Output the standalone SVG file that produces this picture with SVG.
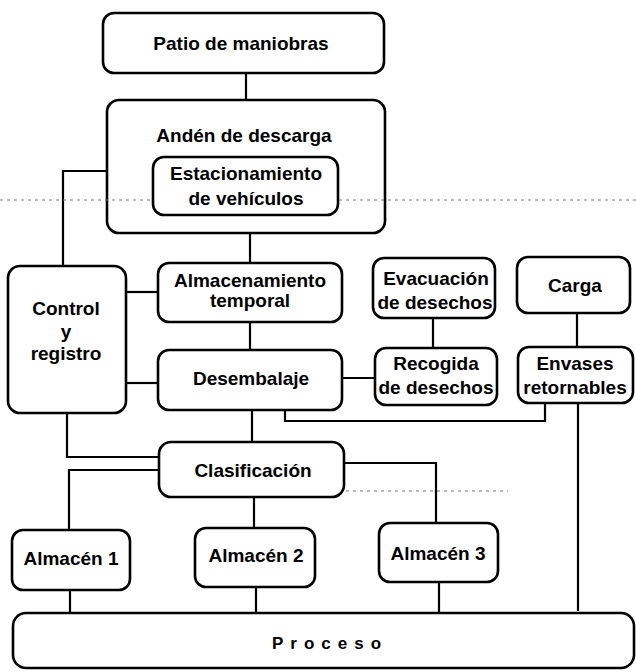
<svg xmlns="http://www.w3.org/2000/svg" width="636" height="672" viewBox="0 0 636 672">
<style>
.box{fill:#fff;stroke:#000;stroke-width:2.6}
.ln{fill:none;stroke:#000;stroke-width:2.2}
.art{fill:none;stroke:#777;stroke-width:1;stroke-dasharray:3 4}
text{font-family:"Liberation Sans",Arial,sans-serif;font-weight:bold;font-size:19px;fill:#000;text-anchor:middle;dominant-baseline:central}
</style>
<rect width="636" height="672" fill="#fff"/>
<g id="connectors">
<path class="ln" d="M246 73V100"/>
<path class="ln" d="M107 171H63V266"/>
<path class="ln" d="M250 233V263"/>
<path class="ln" d="M126 292H158"/>
<path class="ln" d="M250 322V350"/>
<path class="ln" d="M126 383H158"/>
<path class="ln" d="M342 378H375"/>
<path class="ln" d="M433 318V348"/>
<path class="ln" d="M577 313V347"/>
<path class="ln" d="M285 410V421H545V403"/>
<path class="ln" d="M578 403V611"/>
<path class="ln" d="M252 410V442"/>
<path class="ln" d="M67 413V457H159"/>
<path class="ln" d="M159 470H69V530"/>
<path class="ln" d="M254 497V528"/>
<path class="ln" d="M344 463H436V523"/>
<path class="ln" d="M70 590V617"/>
<path class="ln" d="M256 587V615"/>
<path class="ln" d="M439 582V612"/>
</g>
<g id="patio">
<rect class="box" x="103" y="13" width="281" height="60" rx="11"/>
<text x="241" y="43">Patio de maniobras</text>
</g>
<g id="anden">
<rect class="box" x="107" y="100" width="278" height="133" rx="12"/>
<text x="244" y="135">Andén de descarga</text>
</g>
<g id="estacionamiento">
<rect class="box" x="153" y="157" width="185" height="58" rx="11"/>
<text x="246" y="173">Estacionamiento</text>
<text x="246" y="198">de vehículos</text>
</g>
<g id="control">
<rect class="box" x="8" y="266" width="118" height="147" rx="12"/>
<text x="66" y="308">Control</text>
<text x="66" y="331">y</text>
<text x="66" y="353">registro</text>
</g>
<g id="almacenamiento">
<rect class="box" x="158" y="263" width="184" height="59" rx="11"/>
<text x="250" y="280">Almacenamiento</text>
<text x="250" y="300">temporal</text>
</g>
<g id="evacuacion">
<rect class="box" x="373" y="258" width="122" height="60" rx="11"/>
<text x="436" y="278">Evacuación</text>
<text x="435" y="302">de desechos</text>
</g>
<g id="carga">
<rect class="box" x="517" y="257" width="113" height="56" rx="11"/>
<text x="575" y="285">Carga</text>
</g>
<g id="desembalaje">
<rect class="box" x="158" y="350" width="184" height="60" rx="11"/>
<text x="251" y="378">Desembalaje</text>
</g>
<g id="recogida">
<rect class="box" x="375" y="348" width="122" height="57" rx="11"/>
<text x="436" y="363">Recogida</text>
<text x="436" y="387">de desechos</text>
</g>
<g id="envases">
<rect class="box" x="518" y="347" width="115" height="56" rx="11"/>
<text x="575" y="363">Envases</text>
<text x="575" y="387">retornables</text>
</g>
<g id="clasificacion">
<rect class="box" x="159" y="442" width="185" height="55" rx="12"/>
<text x="253" y="470">Clasificación</text>
</g>
<g id="almacen1">
<rect class="box" x="12" y="530" width="118" height="60" rx="11"/>
<text x="71" y="558">Almacén 1</text>
</g>
<g id="almacen2">
<rect class="box" x="195" y="528" width="120" height="59" rx="11"/>
<text x="256" y="555">Almacén 2</text>
</g>
<g id="almacen3">
<rect class="box" x="379" y="523" width="119" height="59" rx="11"/>
<text x="438" y="553">Almacén 3</text>
</g>
<g id="proceso">
<rect class="box" x="13" y="613" width="621" height="55" rx="13"/>
<text x="330" y="643" style="font-size:17px;letter-spacing:7px">Proceso</text>
</g>
<g id="artifacts">
<path class="art" d="M0 200H152M339 200H636"/>
<path class="art" d="M346 491H508"/>
</g>
</svg>
